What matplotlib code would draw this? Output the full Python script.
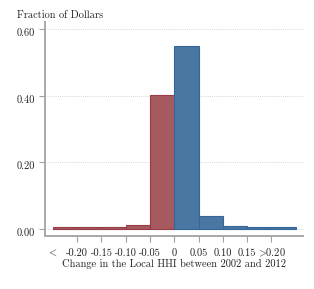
import matplotlib
matplotlib.use("Agg")
import matplotlib.pyplot as plt
import matplotlib.transforms as mtransforms
import numpy as np

plt.rcParams['font.family'] = ['cmr10', 'DejaVu Serif']
plt.rcParams['mathtext.fontset'] = 'cm'
plt.rcParams['axes.unicode_minus'] = False

# bin left edges and fractions
bin_left = [-0.25, -0.20, -0.15, -0.10, -0.05, 0.00, 0.05, 0.10, 0.15, 0.20]
fractions = [0.005, 0.005, 0.006, 0.013, 0.403, 0.549, 0.039, 0.008, 0.005, 0.005]
xticks = [-0.20, -0.15, -0.10, -0.05, 0.0, 0.05, 0.10, 0.15, 0.20]
xticklabels = ['-0.20', '-0.15', '-0.10', '-0.05', '0', '0.05', '0.10', '0.15', r'${>}\!\!$0.20']
less_label_x = -0.25
yticks = [0.0, 0.2, 0.4, 0.6]
yticklabels = ['0.00', '0.20', '0.40', '0.60']

red_fill, red_edge = '#a65a60', '#9a3c47'
blue_fill, blue_edge = '#4a77a2', '#33679b'
txt = '#222222'
W, H = 314, 289

fig = plt.figure(figsize=(3.14, 2.89), dpi=100)
ax = fig.add_axes([45 / W, 1 - 236 / H, 258 / W, (236 - 22) / H])

for x, h in zip(bin_left, fractions):
    neg = x < 0
    ax.bar(x, h, width=0.05, align='edge',
           color=red_fill if neg else blue_fill,
           edgecolor=red_edge if neg else blue_edge, linewidth=0.8, zorder=3)

ax.set_xlim(-0.266, 0.265)
ax.set_ylim(-0.021, 0.622)
ax.set_yticks(yticks)
ax.set_yticklabels(yticklabels)
ax.set_xticks(xticks)
ax.set_xticklabels([])
ax.tick_params(axis='both', colors='#a0a0a0', labelcolor=txt, labelsize=7.5,
               length=4, width=0.8)
ax.tick_params(axis='y', pad=3)
shift = mtransforms.ScaledTranslation(0, -3 / 100, fig.dpi_scale_trans)
for lab in ax.get_yticklabels():
    lab.set_transform(lab.get_transform() + shift)

for y in yticks:
    ax.axhline(y, color='#c8c8c8', linestyle=(0, (1, 1.5)), linewidth=0.6, zorder=1)

# x tick labels placed on a common baseline
blend = mtransforms.blended_transform_factory(ax.transData, fig.transFigure)
base_y = 1 - 256 / H
for x, lab in zip(xticks, xticklabels):
    ax.text(x, base_y, lab, transform=blend, ha='center', va='baseline',
            fontsize=7.5, color=txt, clip_on=False)
ax.text(less_label_x, base_y, r'${<}$', transform=blend, ha='center', va='baseline',
        fontsize=7.5, color=txt, clip_on=False)

for s in ['top', 'right']:
    ax.spines[s].set_visible(False)
for s in ['left', 'bottom']:
    ax.spines[s].set_color('#a8a8a8')
    ax.spines[s].set_linewidth(1.4)

fig.text(17 / W, 1 - 18 / H, 'Fraction of Dollars', fontsize=7.5, va='baseline', ha='left', color=txt)
fig.text(174 / W, 1 - 267 / H, 'Change in the Local HHI between 2002 and 2012',
         fontsize=7.5, ha='center', va='baseline', color=txt)

fig.savefig('out.png', dpi=100)
